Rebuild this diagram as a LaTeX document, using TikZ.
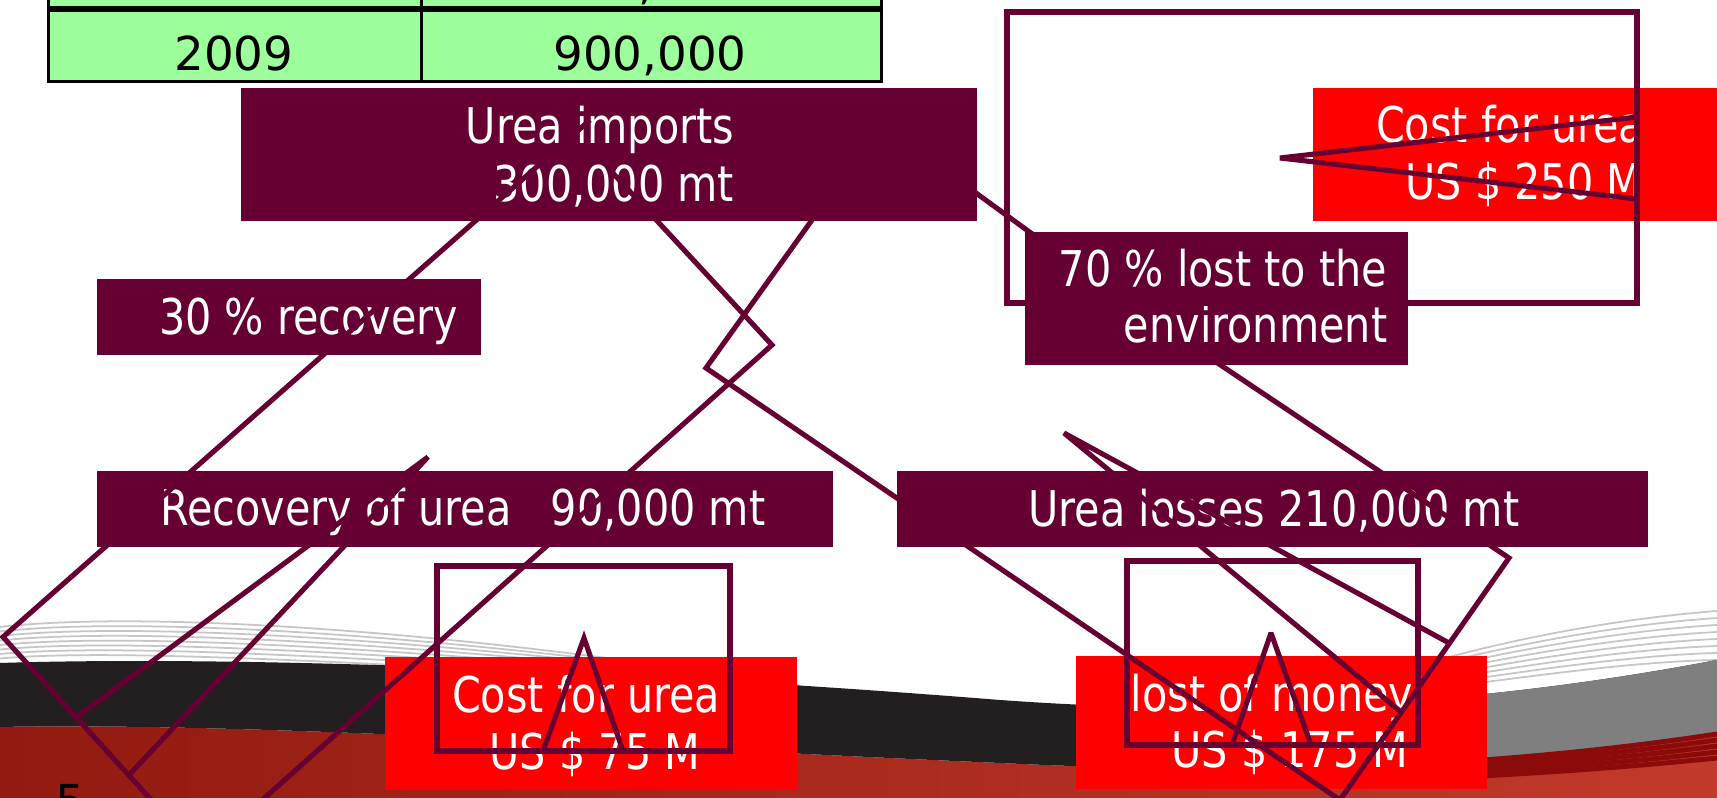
\documentclass[tikz,border=0pt]{standalone}
\usepackage{fontspec}
\setmainfont{DejaVu Sans}
\newfontfamily\boxfont[FakeStretch=0.84]{DejaVu Sans}
\definecolor{wine}{HTML}{660033}
\definecolor{sheetgreen}{HTML}{9CFF9C}
\definecolor{bandblack}{HTML}{231F20}
\definecolor{bandgray}{HTML}{7F7F7F}
\definecolor{reddark}{HTML}{921A10}
\definecolor{redlight}{HTML}{D04A38}
\definecolor{redmid}{HTML}{C23A2C}
\definecolor{stripered}{HTML}{8B0A0A}
\tikzset{
	plate/.style={fill=wine, anchor=north west, inner sep=0pt},
	costplate/.style={fill=red, anchor=north west, inner sep=0pt},
	tall/.style={minimum height=1.33cm},
	flat/.style={minimum height=0.76cm},
	boxline/.style={text=white, font=\boxfont\fontsize{14}{16.5}\selectfont, inner sep=0pt, anchor=base east},
	figure/.style={font=\fontsize{13.3}{16}\selectfont, inner sep=0pt, anchor=base},
	cell/.style={draw=black, line width=0.85pt, fill=sheetgreen, anchor=north west, inner sep=0pt, minimum height=0.71cm},
	wire/.style={draw=wine, line width=1.45pt, miter limit=3},
	swooshline/.style={draw=gray!45, line width=0.5pt}
}
\begin{document}
\begin{tikzpicture}[x=0.01cm, y=-0.01cm]
	\useasboundingbox (0,0) rectangle (1717,798);
	\fill[white] (0,0) rectangle (1717,798);

	\foreach \k in {0,1,...,7}{
		\draw[swooshline] (0,627+4.5*\k) .. controls (130,612+5*\k) and (420,625+6*\k) .. (800,686);
		\draw[swooshline] (1300,704) .. controls (1450,690-6*\k) and (1600,662-6*\k) .. (1717,660-7*\k);
	};
	\shade[left color=reddark, middle color=redlight, right color=redmid] (0,727) .. controls (250,722) and (650,748) .. (1000,763) .. controls (1250,775) and (1480,772) .. (1717,732) -- (1717,798) -- (0,798) -- cycle;
	\fill[bandblack] (0,663) .. controls (250,655) and (650,672) .. (1000,700) .. controls (1250,718) and (1480,705) .. (1717,660) -- (1717,732) .. controls (1480,772) and (1250,775) .. (1000,763) .. controls (650,748) and (250,722) .. (0,727) -- cycle;
	\begin{scope}
		\clip (1300,0) rectangle (1717,798);
		\fill[bandgray] (0,663) .. controls (250,655) and (650,672) .. (1000,700) .. controls (1250,718) and (1480,705) .. (1717,660) -- (1717,732) .. controls (1480,772) and (1250,775) .. (1000,763) .. controls (650,748) and (250,722) .. (0,727) -- cycle;
		\foreach \k in {0,1,...,4}{
			\draw[stripered, line width=1.4pt] (1300,768+3.5*\k) .. controls (1450,766+3.5*\k) and (1600,752+4.5*\k) .. (1717,734+6*\k);
		};
	\end{scope}

	\fill[sheetgreen] (47,-20) rectangle (880,80);
	\node[cell, minimum width=3.73cm, minimum height=0.5cm, anchor=south west] (yearhead) at (47,9) {};
	\node[cell, minimum width=4.6cm, minimum height=0.5cm, anchor=south west] (amounthead) at (420,9) {};
	\node[cell, minimum width=3.73cm] (yearcell) at (47,9) {};
	\node[cell, minimum width=4.6cm] (amountcell) at (420,9) {};
	\node[figure] (upperfigure) at (646,0) {,};
	\node[figure] (year) at (234,71) {2009};
	\node[figure] (amount) at (650,71) {900,000};

	\node[plate, tall, minimum width=7.36cm] (imports) at (240,87) {};
	\node[costplate, tall, minimum width=4.2cm] (bigcost) at (1312,87) {};
	\node[plate, tall, minimum width=3.83cm] (lost) at (1024,231) {};
	\node[plate, flat, minimum width=3.84cm] (share) at (96,278) {};
	\node[plate, flat, minimum width=7.36cm] (recovered) at (96,470) {};
	\node[plate, flat, minimum width=7.51cm] (losses) at (896,470) {};
	\node[costplate, tall, minimum width=4.12cm] (smallcost) at (384,656) {};
	\node[costplate, tall, minimum width=4.11cm] (moneylost) at (1075,655) {};

	\node[boxline] (importsA) at (735,144) {Urea imports};
	\node[boxline] (importsB) at (735,202) {300,000 mt};
	\node[boxline] (bigcostA) at (1645,143) {Cost for urea};
	\node[boxline] (bigcostB) at (1643,200) {US \$ 250 M};
	\node[boxline] (lostA) at (1388,287) {70 \% lost to the};
	\node[boxline] (lostB) at (1388,343) {environment};
	\node[boxline] (shareA) at (459,335) {30 \% recovery};
	\node[boxline] (recoveredA) at (766,526) {Recovery of urea\ \ \ 90,000 mt};
	\node[boxline] (lossesA) at (1520,527) {Urea losses 210,000 mt};
	\node[boxline] (smallcostA) at (721,713) {Cost for urea};
	\node[boxline] (smallcostB) at (701,770) {US \$ 75 M};
	\node[boxline] (moneylostA) at (1414,712) {lost of money};
	\node[boxline] (moneylostB) at (1409,768) {US \$ 175 M};

	\node[figure, anchor=north west] (pagenum) at (55,784) {5};

	\coordinate (wedgetip) at (1280,158);
	\coordinate (wedgeup) at (1637,117);
	\coordinate (wedgedown) at (1637,199);
	\coordinate (leftstart) at (590,120);
	\coordinate (leftturn) at (3,637);
	\coordinate (leftend) at (165,815);
	\coordinate (headtip) at (428,457);
	\coordinate (headA) at (77,717);
	\coordinate (headB) at (129,775);
	\coordinate (midstart) at (610,170);
	\coordinate (midturn) at (772,345);
	\coordinate (midend) at (251,810);
	\coordinate (rightstart) at (812,220);
	\coordinate (rightturn) at (706,368);
	\coordinate (rightbottom) at (1340,800);
	\coordinate (rightcorner) at (1509,558);
	\coordinate (rightend) at (1216,362);
	\coordinate (losstip) at (1064,433);
	\coordinate (lossA) at (1449,643);
	\coordinate (lossB) at (1401,712);
	\coordinate (linkstart) at (965,185);
	\coordinate (linkend) at (1035,236);

	\draw[wire] (1007,12) rectangle (1637,303);
	\draw[wire] (437,566) rectangle (730,751);
	\draw[wire] (1127,561) rectangle (1418,745);
	\draw[wire] (543,751) -- (584,638) -- (623,751);
	\draw[wire] (1232,745) -- (1271,633) -- (1311,745);
	\draw[wire] (wedgeup) -- (wedgetip) -- (wedgedown);
	\draw[wire] (leftstart) -- (leftturn) -- (leftend);
	\draw[wire] (headA) -- (headtip) -- (headB);
	\draw[wire] (midstart) -- (midturn) -- (midend);
	\draw[wire] (rightstart) -- (rightturn) -- (rightbottom) -- (rightcorner) -- (rightend);
	\draw[wire] (lossA) -- (losstip) -- (lossB);
	\draw[wire] (linkstart) -- (linkend);
\end{tikzpicture}
\end{document}
